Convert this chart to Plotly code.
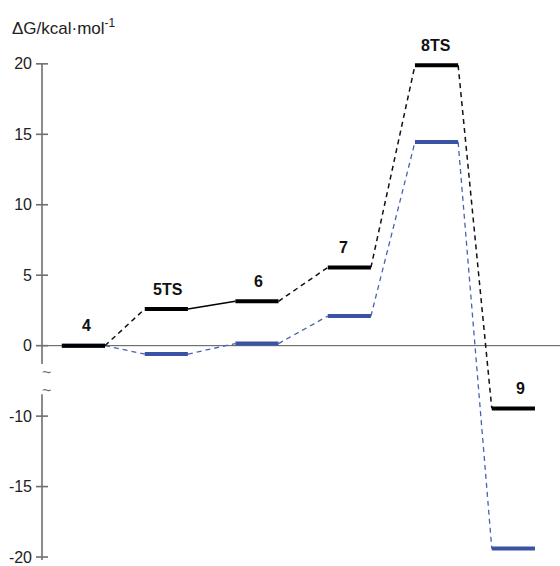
import plotly.graph_objects as go

# ---- data ----
stages = ["4", "5TS", "6", "7", "8TS", "9"]
stage_x = [0.48, 1.44, 2.49, 3.56, 4.57, 5.46]
energy_black = [0.0, 2.6, 3.15, 5.55, 19.9, -9.45]
energy_blue = [0.0, -0.6, 0.15, 2.1, 14.45, -19.4]
tick_vals = [20, 15, 10, 5, 0, -10, -15, -20]
tick_text = ["20", "15", "10", "5", "0", "-10", "-15", "-20"]

# axis break: region between -10 and -5 is removed
def disp(v):
    return v if v > -5 else v + 5

HALF = 0.25
BLACK = "#000000"
BLUE = "#3a52a4"
FONT = "Liberation Sans, Arial, sans-serif"

fig = go.Figure()

def add_series(vals, color, solid_pairs, dash_color, lw_dash):
    # connectors
    for i in range(len(vals) - 1):
        x0 = stage_x[i] + HALF
        x1 = stage_x[i + 1] - HALF
        y0, y1 = disp(vals[i]), disp(vals[i + 1])
        solid = i in solid_pairs
        fig.add_trace(go.Scatter(
            x=[x0, x1], y=[y0, y1], mode="lines",
            line=dict(color=color if solid else dash_color,
                      width=1.6 if solid else lw_dash,
                      dash="solid" if solid else "5px,4px"),
            hoverinfo="skip", showlegend=False))
    # levels
    for i, v in enumerate(vals):
        fig.add_trace(go.Scatter(
            x=[stage_x[i] - HALF, stage_x[i] + HALF], y=[disp(v), disp(v)],
            mode="lines", line=dict(color=color, width=4),
            hoverinfo="skip", showlegend=False))

add_series(energy_blue, BLUE, [], "#4a62b0", 1.3)
add_series(energy_black, BLACK, [1], "#111111", 1.5)

shapes = []
AX = "#6e6e6e"
# zero line
shapes.append(dict(type="line", xref="x", yref="y", x0=0, x1=6, y0=0, y1=0,
                   line=dict(color="#555555", width=1), layer="below"))
# broken y axis line
shapes.append(dict(type="line", xref="paper", yref="y", x0=0, x1=0, y0=20, y1=-1.3,
                   line=dict(color=AX, width=1.6)))
shapes.append(dict(type="line", xref="paper", yref="y", x0=0, x1=0, y0=-3.45, y1=-15.3,
                   line=dict(color=AX, width=1.6)))
# tick marks crossing the axis
for t in tick_vals:
    shapes.append(dict(type="line", xref="paper", yref="y", xsizemode="pixel", xanchor=0,
                       x0=-6, x1=6, y0=disp(t), y1=disp(t),
                       line=dict(color=AX, width=1.6)))

annotations = []
# stage labels
label_dx = [3, 2, 2, -6, -1, 7]
for i, s in enumerate(stages):
    annotations.append(dict(x=stage_x[i], y=disp(energy_black[i]), xref="x", yref="y",
                            text="<b>%s</b>" % s, showarrow=False, yshift=20,
                            xshift=label_dx[i],
                            font=dict(family=FONT, size=16, color="#111111")))
# break marks
for yb in [-1.9, -3.2]:
    annotations.append(dict(x=0, y=yb, xref="paper", yref="y", text="~", showarrow=False,
                            xshift=-2,
                            font=dict(family=FONT, size=16, color=AX)))
# axis title
annotations.append(dict(x=-0.0618, y=1.0287, xref="paper", yref="paper", xanchor="left",
                        yanchor="middle",
                        text="ΔG/kcal·mol<sup>-1</sup>", showarrow=False,
                        font=dict(family=FONT, size=17, color="#222222")))

fig.update_layout(
    width=560, height=566,
    margin=dict(l=42, r=0, t=42, b=2),
    paper_bgcolor="white", plot_bgcolor="white",
    showlegend=False,
    xaxis=dict(range=[0, 6], visible=False, fixedrange=True),
    yaxis=dict(range=[-15.21, 21.55], showgrid=False, zeroline=False, showline=False,
               tickmode="array", tickvals=[disp(t) for t in tick_vals], ticktext=tick_text,
               ticks="", ticklabelstandoff=9, ticklabeloverflow="allow",
               tickfont=dict(family=FONT, size=16, color="#222222")),
    shapes=shapes, annotations=annotations,
)

fig.write_html("out.html", config={"displayModeBar": False},
               post_script="document.body.style.margin='0';document.body.style.overflow='hidden';")
